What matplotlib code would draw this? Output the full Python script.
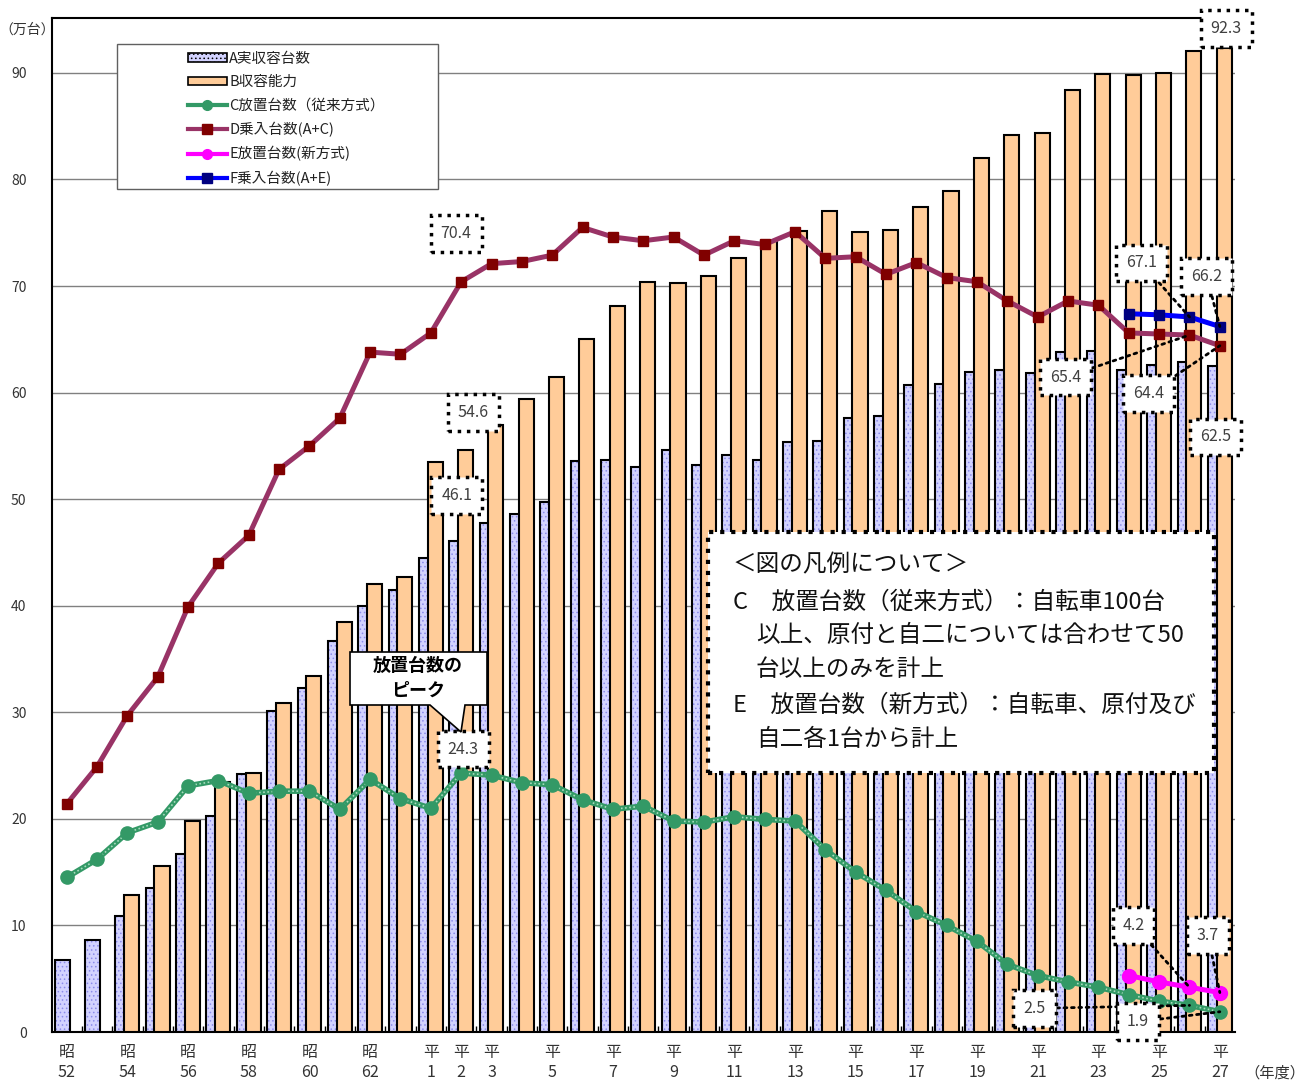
import numpy as np
import matplotlib.pyplot as plt
from matplotlib.patches import Rectangle, Polygon, Patch
from matplotlib.lines import Line2D

plt.rcParams['font.family'] = ['Noto Sans CJK JP', 'DejaVu Sans']
plt.rcParams['hatch.linewidth'] = 0.6

# 年度 (昭52 - 平27)
era = ['昭'] * 12 + ['平'] * 27
num = list(range(52, 64)) + list(range(1, 28))
shown = ['昭52', '昭54', '昭56', '昭58', '昭60', '昭62', '平1', '平2', '平3', '平5', '平7',
         '平9', '平11', '平13', '平15', '平17', '平19', '平21', '平23', '平25', '平27']

# A 実収容台数 (万台)
A = [6.8, 8.6, 10.9, 13.5, 16.7, 20.3, 24.2, 30.1, 32.3, 36.7, 40.0, 41.5,
     44.5, 46.1, 47.8, 48.6, 49.7, 53.6, 53.7, 53.0, 54.6, 53.2, 54.1, 53.7,
     55.4, 55.5, 57.6, 57.8, 60.7, 60.8, 61.9, 62.1, 61.8, 63.8, 63.9, 62.1,
     62.6, 62.9, 62.5]
# B 収容能力
B = [np.nan, np.nan, 12.9, 15.6, 19.8, 23.5, 24.3, 30.9, 33.4, 38.5, 42.0, 42.7,
     53.5, 54.6, 57.0, 59.4, 61.5, 65.0, 68.1, 70.4, 70.3, 70.9, 72.6, 74.2,
     75.2, 77.0, 75.1, 75.3, 77.4, 78.9, 82.0, 84.2, 84.4, 88.4, 89.9, 89.8,
     90.0, 92.1, 92.3]
# C 放置台数(従来方式)
C = [14.5, 16.2, 18.7, 19.7, 23.1, 23.6, 22.4, 22.6, 22.6, 20.9, 23.7, 21.9,
     21.0, 24.3, 24.1, 23.4, 23.2, 21.8, 20.9, 21.2, 19.8, 19.7, 20.2, 19.95,
     19.8, 17.1, 15.0, 13.3, 11.3, 10.0, 8.5, 6.35, 5.3, 4.7, 4.2, 3.5,
     2.9, 2.5, 1.9]
# D 乗入台数(A+C)
D = [21.4, 24.9, 29.7, 33.3, 39.9, 44.0, 46.6, 52.8, 55.0, 57.6, 63.8, 63.6,
     65.6, 70.4, 72.1, 72.3, 72.9, 75.5, 74.6, 74.25, 74.6, 72.9, 74.25, 73.9,
     75.1, 72.6, 72.75, 71.1, 72.2, 70.8, 70.4, 68.6, 67.1, 68.6, 68.2, 65.6,
     65.5, 65.4, 64.4]
# E 放置台数(新方式), F 乗入台数(A+E)  (平24 - 平27)
EF_years = ['平24', '平25', '平26', '平27']
E = [5.3, 4.7, 4.2, 3.7]
F = [67.4, 67.3, 67.1, 66.2]

years = [e + str(n) for e, n in zip(era, num)]
x = np.arange(len(years))
xe = np.array([years.index(y) for y in EF_years])

W, H = 1311, 1081
fig = plt.figure(figsize=(W / 100, H / 100), dpi=100)
ax = fig.add_axes([51.5 / W, 1 - 1032 / H, (1235 - 51.5) / W, (1032 - 17.5) / H])
ax.set_xlim(-0.5, 38.5)
ax.set_ylim(0, 95.2)

for v in range(10, 100, 10):
    ax.axhline(v, color='#808080', lw=1, zorder=0)

# bars
ax.bar(x - 0.143, A, 0.5, color='#D2D2FF', hatch='....', edgecolor='#8C8CEB', lw=0, zorder=2)
ax.bar(x - 0.143, A, 0.5, fill=False, edgecolor='black', lw=1.5, zorder=2)
ax.bar(x + 0.143, B, 0.5, color='#FFCC99', edgecolor='black', lw=1.5, zorder=3)

# lines
ax.plot(x, C, color='#339966', lw=4, zorder=5)
ax.plot(x, C, color='#A6DCBC', lw=1.2, ls=(0, (1, 1.5)), zorder=5.1)
ax.plot(x, C, ls='none', marker='o', ms=9.5, color='#339966', zorder=5.2)
ax.plot(x, D, color='#993366', lw=3.6, marker='s', ms=7.5, mfc='#800000', mec='#800000', zorder=6)
ax.plot(xe, E, color='#FF00FF', lw=3.6, marker='o', ms=10, zorder=6)
ax.plot(xe, F, color='#0000FF', lw=3.6, marker='s', ms=7.5, mfc='#000080', mec='#000080', zorder=6)

# axes styling
ax.spines['right'].set_visible(False)
for s in ['left', 'bottom', 'top']:
    ax.spines[s].set_linewidth(1.5)
ax.set_yticks(range(0, 100, 10))
ax.tick_params(axis='y', length=0, pad=18, labelsize=10, labelcolor='#333333')
ax.set_xticks([years.index(s) for s in shown])
ax.set_xticklabels([s[0] + '\n' + s[1:] for s in shown], linespacing=1.2)
ax.tick_params(axis='x', length=0, pad=9, labelsize=11.5, labelcolor='#333333')
ax.set_xticks(x[:-1] + 0.5, minor=True)
ax.tick_params(axis='x', which='minor', direction='in', length=4, width=1)

fig.text(27 / W, 1 - 30 / H, '（万台）', ha='center', va='center', fontsize=10, color='#333333')
fig.text(1275 / W, 1 - 1073 / H, '（年度）', ha='center', va='center', fontsize=11, color='#333333')

# data labels: (series, year, dx, dy, leader)
series = {'A': A, 'B': B, 'C': C, 'D': D}
off = {'A': -0.143, 'B': 0.143}
labels = [
    ('B', '平27', 2, 20, False),
    ('D', '平2', -5, 48, False),
    ('B', '平2', 8, 38, False),
    ('A', '平2', 0, 45, False),
    ('C', '平2', 2, 24, False),
    ('F', '平26', -48, 54, True),
    ('F', '平27', -13, 50, True),
    ('D', '平26', -124, -42, True),
    ('D', '平27', -71, -48, True),
    ('A', '平27', 0, -71, False),
    ('E', '平26', -56, 62, True),
    ('E', '平27', -12, 57, True),
    ('C', '平26', -155, -3, True),
    ('C', '平27', -82, -10, True),
]
for name, yr, dx, dy, leader in labels:
    if name in ('E', 'F'):
        k = EF_years.index(yr)
        xi, val = xe[k], (E if name == 'E' else F)[k]
    else:
        xi = years.index(yr)
        val = series[name][xi]
        xi = xi + off.get(name, 0)
    ap = None
    if leader:
        ap = dict(arrowstyle='-', ls=':', lw=2, color='black', shrinkA=0, shrinkB=0)
    ax.annotate(f'{val:.1f}', xy=(xi, val), xytext=(dx, dy), textcoords='offset pixels',
                ha='center', va='center', fontsize=11.5, color='#404040', zorder=10,
                bbox=dict(boxstyle='square,pad=0.62', fc='white', ec='black', ls=':', lw=2.5),
                arrowprops=ap)

# callout 放置台数のピーク
call = [(350, 652), (487, 652), (487, 705), (465, 705), (461, 732), (430, 705), (350, 705)]
fig.patches.append(Polygon([(px / W, 1 - py / H) for px, py in call], closed=True,
                           fc='white', ec='black', lw=1.2, transform=fig.transFigure, zorder=9))
fig.text(418 / W, 1 - 665 / H, '放置台数の', ha='center', va='center', fontsize=13,
         fontweight='bold', zorder=10)
fig.text(418 / W, 1 - 690 / H, 'ピーク', ha='center', va='center', fontsize=13,
         fontweight='bold', zorder=10)

# note box
fig.patches.append(Rectangle((708 / W, 1 - 773 / H), (1214 - 708) / W, (773 - 532) / H,
                             fc='white', ec='black', ls=':', lw=3, transform=fig.transFigure,
                             zorder=9))
note = [
    (733, 565, '＜図の凡例について＞'),
    (733, 602, 'C　放置台数（従来方式）：自転車100台'),
    (756, 635, '以上、原付と自二については合わせて50'),
    (756, 670, '台以上のみを計上'),
    (733, 705, 'E　放置台数（新方式）：自転車、原付及び'),
    (756, 740, '自二各1台から計上'),
]
for px, py, t in note:
    fig.text(px / W, 1 - py / H, t, ha='left', va='center', fontsize=17, color='#111111',
             zorder=10)

# legend
fig.patches.append(Rectangle((117 / W, 1 - 189 / H), (438 - 117) / W, (189 - 44) / H,
                             fc='white', ec='#606060', lw=1, transform=fig.transFigure, zorder=8))
handles = [
    Patch(fc='#D2D2FF', ec='black', hatch='....', lw=1.2),
    Patch(fc='#FFCC99', ec='black', lw=1.2),
    Line2D([], [], color='#339966', lw=3, marker='o', ms=7),
    Line2D([], [], color='#993366', lw=3, marker='s', ms=7, mfc='#800000', mec='#800000'),
    Line2D([], [], color='#FF00FF', lw=3, marker='o', ms=7),
    Line2D([], [], color='#0000FF', lw=3, marker='s', ms=7, mfc='#000080', mec='#000080'),
]
names = ['A実収容台数', 'B収容能力', 'C放置台数（従来方式）', 'D乗入台数(A+C)',
         'E放置台数(新方式)', 'F乗入台数(A+E)']
leg = fig.legend(handles, names, loc='upper left', bbox_to_anchor=(176 / W, 1 - 40 / H),
                 frameon=False, fontsize=10.5, handlelength=2.7, handleheight=0.5,
                 handletextpad=0.15, labelspacing=0.64, borderpad=0.3)
leg.set_zorder(9)
for t in leg.get_texts():
    t.set_color('#222222')

fig.savefig('out.png', dpi=100)
